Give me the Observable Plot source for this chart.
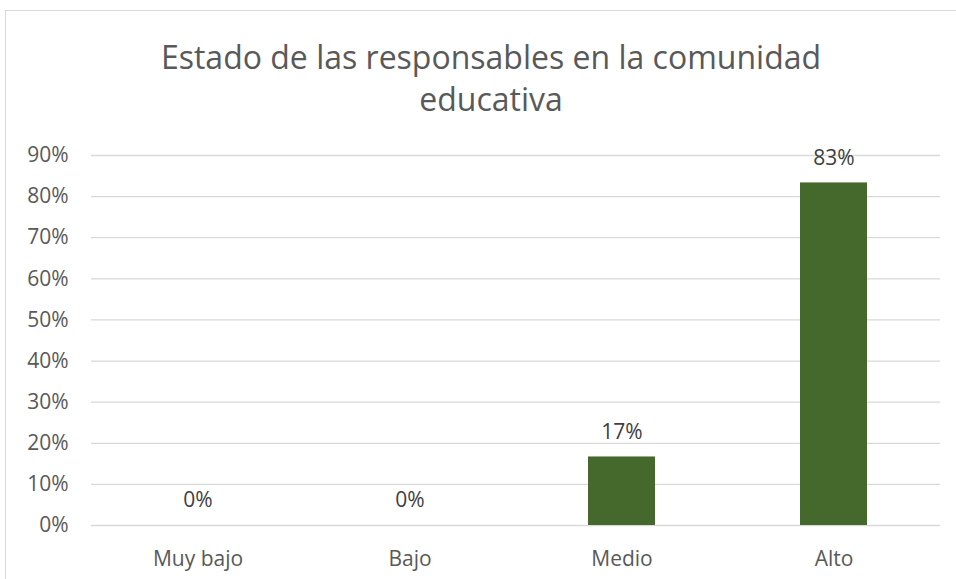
<!DOCTYPE html>
<html>
<head>
<meta charset="utf-8">
<script src="https://cdn.jsdelivr.net/npm/d3@7"></script>
<script src="https://cdn.jsdelivr.net/npm/@observablehq/plot@0.6"></script>
<style>
  html, body { margin: 0; padding: 0; background: #fff; width: 956px; height: 579px; overflow: hidden; }
  #frame { position: absolute; left: 5px; top: 10px; width: 1000px; height: 700px; border: 1px solid #d9d9d9; box-sizing: border-box; }
  #title { position: absolute; left: 0; top: 36px; width: 982px; text-align: center; font-family: "Open Sans", sans-serif; font-size: 32px; line-height: 42px; color: #595959; }
  #chart { position: absolute; left: 0; top: 125px; }
</style>
</head>
<body>
<div id="frame"></div>
<div id="title">Estado de las responsables en la comunidad<br>educativa</div>
<div id="chart"></div>
<script>
const categories = ["Muy bajo", "Bajo", "Medio", "Alto"];
const values = [0, 0, 16.67, 83.33];
const yTicks = [0, 10, 20, 30, 40, 50, 60, 70, 80, 90];

const data = categories.map((c, i) => ({category: c, value: values[i]}));

const plot = Plot.plot({
  width: 956,
  height: 454,
  marginTop: 30,
  marginBottom: 54,
  marginLeft: 91,
  marginRight: 16,
  style: {fontFamily: "'Open Sans', sans-serif", fontSize: "21px", color: "#595959", background: "transparent"},
  x: {domain: categories, paddingInner: 0.684, paddingOuter: 0.342, label: null},
  y: {domain: [0, 90], label: null},
  marks: [
    Plot.ruleY(yTicks, {stroke: "#d9d9d9", strokeWidth: 1.3}),
    Plot.barY(data, {x: "category", y: "value", fill: "#45682d"}),
    Plot.text(data, {x: "category", y: "value", text: d => Math.round(d.value) + "%", dy: -25, fill: "#404040", fontSize: 21}),
    Plot.axisX({tickSize: 0, tickPadding: 26, fontSize: 21, fill: "#595959"}),
    Plot.axisY({ticks: yTicks, tickSize: 0, tickPadding: 23, tickFormat: d => d + "%", fontSize: 21, fill: "#595959"})
  ]
});
document.getElementById("chart").appendChild(plot);
</script>
</body>
</html>
